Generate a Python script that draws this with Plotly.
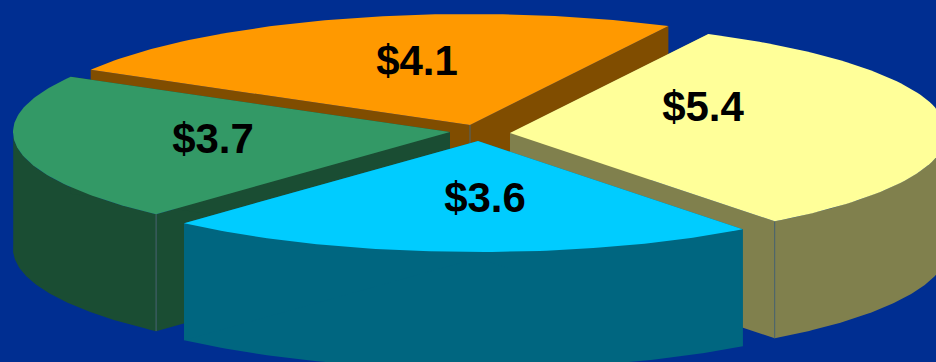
import numpy as np
import plotly.graph_objects as go

# Revenue split shown on the pie, in $ millions
values = [5.4, 3.6, 3.7, 4.1]
labels = ["$%.1f" % v for v in values]

# Drawing order runs back to front; indices point into the lists above
draw_order = [3, 2, 0, 1]
top_colors = ["#FFFF99", "#00CCFF", "#339966", "#FF9900"]
side_colors = ["#80804D", "#006680", "#1A4D33", "#804D00"]

# Projection of the tilted pie onto the page, in pixels
WIDTH, HEIGHT = 936, 362
RX, RY = 437, 111
DEPTH = 117
START_ANGLE = -63.0
apex_x = [510, 478, 450, 470]
apex_y = [133, 141, 132, 125]
label_x = [703, 485, 213, 417]
label_y = [110, 201, 142, 64]

BACKGROUND = "#002E91"
SEAM = "#4A6470"


def view_angle(a):
    # Slight foreshortening of the lower left of the pie under the camera tilt
    a = np.asarray(a, dtype=float)
    s = np.clip((a - 52.7) / 187.3, 0.0, 1.0)
    return a + 2.6 * np.sin(np.pi * s) ** 2


def rim(cx, cy, a0, a1, n=90):
    t = np.radians(view_angle(np.linspace(a0, a1, n)))
    return cx + RX * np.cos(t), cy + RY * np.sin(t)


def polygon(x, y, color):
    return go.Scatter(
        x=np.append(x, x[0]), y=np.append(y, y[0]), mode="lines", fill="toself",
        fillcolor=color, line=dict(color=color, width=0), hoverinfo="skip",
        showlegend=False,
    )


def seam(x, y):
    return go.Scatter(
        x=[x, x], y=[y, y + DEPTH], mode="lines",
        line=dict(color=SEAM, width=1), hoverinfo="skip", showlegend=False,
    )


edges = START_ANGLE + np.concatenate([[0], np.cumsum(values)]) / sum(values) * 360.0

fig = go.Figure()
for i in draw_order:
    cx, cy = apex_x[i], apex_y[i]
    a0, a1 = edges[i], edges[i + 1]
    rx, ry = rim(cx, cy, a0, a1)

    # Outer wall: only the part of the rim facing the viewer, 0 to 180 degrees
    f0, f1 = max(a0, 0.0), min(a1, 180.0)
    if f1 > f0:
        wx, wy = rim(cx, cy, f0, f1)
        fig.add_trace(polygon(np.r_[wx, wx[::-1]], np.r_[wy, wy[::-1] + DEPTH], side_colors[i]))

    # Radial walls
    for k in (0, -1):
        fig.add_trace(polygon(
            np.array([cx, rx[k], rx[k], cx]),
            np.array([cy, ry[k], ry[k] + DEPTH, cy + DEPTH]),
            side_colors[i],
        ))

    # Seams where a slice's walls meet at a visible corner
    if i == 0:
        fig.add_trace(seam(rx[-1], ry[-1]))
    elif i == 2:
        fig.add_trace(seam(rx[0], ry[0]))
    elif i == 3:
        fig.add_trace(seam(cx, cy))

    fig.add_trace(polygon(np.r_[cx, rx], np.r_[cy, ry], top_colors[i]))

fig.add_trace(go.Scatter(
    x=label_x, y=label_y, text=labels, mode="text", textposition="middle center",
    textfont=dict(family="Liberation Sans", size=42, color="#000000", weight="bold"),
    hoverinfo="skip", showlegend=False,
))

fig.update_layout(
    width=WIDTH, height=HEIGHT, margin=dict(l=0, r=0, t=0, b=0),
    paper_bgcolor=BACKGROUND, plot_bgcolor=BACKGROUND,
    xaxis=dict(range=[0, WIDTH], visible=False),
    yaxis=dict(range=[HEIGHT, 0], visible=False),
)
fig.write_html("out.html", config={"displayModeBar": False})
